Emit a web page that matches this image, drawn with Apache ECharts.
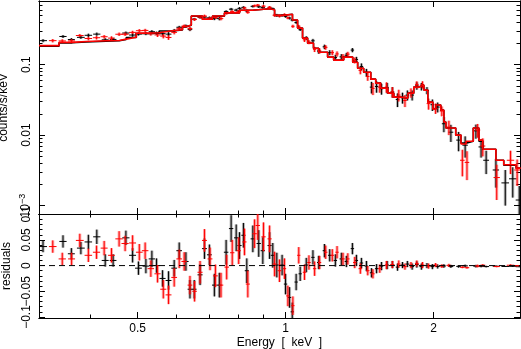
<!DOCTYPE html>
<html>
<head>
<meta charset="utf-8">
<script src="https://cdn.jsdelivr.net/npm/echarts@6/dist/echarts.min.js"></script>
<style>
  html, body { margin: 0; padding: 0; background: #fff; }
  #chart { width: 521px; height: 349px; }
</style>
</head>
<body>
<div id="chart"></div>
<script>
// axis ranges and ticks
const X_MIN = 0.315, X_MAX = 3.0;
const Y_MIN = 0.00076, Y_MAX = 0.8;
const R_MIN = -0.102, R_MAX = 0.1004;
const xMajor = [0.5, 1, 2];
const xMinor = [0.4, 0.6, 0.7, 0.8, 0.9];
const xLabelText = ['0.5', '1', '2'];
const yMajor = [0.001, 0.01, 0.1];
const yMinor = [0.002, 0.003, 0.004, 0.005, 0.006, 0.007, 0.008, 0.009,
  0.02, 0.03, 0.04, 0.05, 0.06, 0.07, 0.08, 0.09, 0.2, 0.3, 0.4, 0.5, 0.6, 0.7];
const yLabelText = ['10{sup|−3}', '0.01', '0.1'];
const rMajor = [-0.1, -0.05, 0, 0.05, 0.1];
const rMinor = [-0.09, -0.08, -0.07, -0.06, -0.04, -0.03, -0.02, -0.01,
  0.01, 0.02, 0.03, 0.04, 0.06, 0.07, 0.08, 0.09];
// residual labels overlap in the original, so they sit on two label rows
const rLabelsA = [-0.1, 0, 0.1];
const rLabelTextA = ['−0.1', '0', '0.1'];
const rLabelsB = [-0.05, 0.05];
const rLabelTextB = ['−0.05', '0.05'];

// folded model (step), bin left edges in keV
const modelE = [0.315, 0.346, 0.368, 0.393, 0.431, 0.459, 0.474, 0.497, 0.528, 0.553, 0.588, 0.617, 0.628, 0.643, 0.677, 0.710,
  0.751, 0.806, 0.856, 0.928, 0.950, 0.991, 1.033, 1.058, 1.083, 1.109, 1.14, 1.168, 1.218, 1.253, 1.313, 1.37, 1.402, 1.442,
  1.491, 1.526, 1.562, 1.615, 1.661, 1.716, 1.774, 1.824, 1.868, 1.912, 1.948, 1.994, 2.023, 2.07, 2.10, 2.12, 2.22, 2.275,
  2.33, 2.41, 2.475, 2.52, 2.595, 2.68, 2.78, 2.945, 3.01];
const blackModel = [0.182, 0.204, 0.21, 0.215, 0.218, 0.227, 0.243, 0.277, 0.28, 0.30, 0.31, 0.344, 0.363, 0.488, 0.44, 0.488,
  0.54, 0.59, 0.62, 0.60, 0.50, 0.52, 0.428, 0.33, 0.238, 0.202, 0.171, 0.15, 0.128, 0.116, 0.128, 0.108, 0.089, 0.078,
  0.0623, 0.0547, 0.0465, 0.0394, 0.0346, 0.0335, 0.0394, 0.048, 0.0512, 0.0435, 0.0294, 0.0234, 0.0267, 0.0226, 0.0153, 0.0126, 0.01, 0.0077,
  0.0082, 0.0126, 0.0082, 0.0063, 0.0063, 0.0044, 0.00375, 0.0034, 0.0034];
const redModel = [0.186, 0.207, 0.213, 0.218, 0.22, 0.23, 0.245, 0.28, 0.283, 0.302, 0.312, 0.346, 0.365, 0.49, 0.442, 0.49,
  0.542, 0.59, 0.62, 0.60, 0.50, 0.52, 0.43, 0.33, 0.238, 0.202, 0.171, 0.15, 0.128, 0.116, 0.128, 0.108, 0.089, 0.078,
  0.0623, 0.0547, 0.0465, 0.0394, 0.0346, 0.0335, 0.0394, 0.048, 0.0512, 0.0435, 0.0294, 0.0234, 0.0267, 0.0226, 0.0153, 0.0126, 0.01, 0.0075,
  0.0082, 0.0126, 0.0085, 0.0063, 0.0063, 0.0044, 0.0038, 0.0034, 0.0034];

// black spectrum: energy, half bin width, counts/s/keV, error, residual
const blackE = [0.321, 0.3525, 0.3666, 0.3833, 0.397, 0.413, 0.4296, 0.4458, 0.4733, 0.4884, 0.502, 0.5198, 0.5346, 0.5464,
  0.562, 0.578, 0.5935, 0.6076, 0.627, 0.639, 0.652, 0.670, 0.684, 0.700, 0.7165, 0.7333, 0.757, 0.775, 0.7936, 0.806, 0.821,
  0.834, 0.858, 0.882, 0.899, 0.928, 0.942, 0.960, 0.984, 1.000, 1.019, 1.032, 1.051, 1.071, 1.102, 1.137, 1.168, 1.200, 1.230,
  1.263, 1.299, 1.330, 1.368, 1.394, 1.427, 1.461, 1.496, 1.532, 1.568, 1.610, 1.650, 1.690, 1.730, 1.770, 1.810, 1.850, 1.890,
  1.940, 1.990, 2.040, 2.100, 2.170, 2.250, 2.320, 2.440, 2.500, 2.560, 2.680, 2.800, 2.900, 2.990];
const blackDE = [0.006, 0.006, 0.006, 0.007, 0.007, 0.007, 0.007, 0.007, 0.008, 0.008, 0.008, 0.008, 0.008, 0.008,
  0.008, 0.008, 0.008, 0.008, 0.008, 0.007, 0.007, 0.008, 0.008, 0.008, 0.008, 0.008, 0.008, 0.008, 0.008, 0.008, 0.008,
  0.008, 0.009, 0.009, 0.009, 0.009, 0.009, 0.009, 0.009, 0.008, 0.008, 0.008, 0.008, 0.008, 0.009, 0.009, 0.009, 0.010, 0.010,
  0.010, 0.011, 0.011, 0.011, 0.011, 0.012, 0.012, 0.012, 0.012, 0.013, 0.013, 0.014, 0.014, 0.015, 0.015, 0.016, 0.016, 0.017,
  0.018, 0.018, 0.020, 0.020, 0.025, 0.025, 0.030, 0.030, 0.030, 0.035, 0.040, 0.050, 0.050, 0.050];
const blackF = [0.219, 0.251, 0.227, 0.244, 0.261, 0.271, 0.225, 0.228, 0.281, 0.263, 0.272, 0.276, 0.293, 0.280,
  0.275, 0.271, 0.305, 0.339, 0.352, 0.317, 0.442, 0.470, 0.473, 0.461, 0.450, 0.450, 0.566, 0.612, 0.594, 0.629, 0.649,
  0.580, 0.672, 0.663, 0.649, 0.639, 0.620, 0.501, 0.501, 0.484, 0.458, 0.430, 0.396, 0.314, 0.239, 0.218, 0.156, 0.179, 0.148,
  0.126, 0.129, 0.136, 0.161, 0.118, 0.094, 0.077, 0.048, 0.049, 0.0455, 0.047, 0.041, 0.032, 0.034, 0.037, 0.037, 0.050, 0.049,
  0.043, 0.027, 0.025, 0.0145, 0.011, 0.0085, 0.0072, 0.0115, 0.0068, 0.0044, 0.0032, 0.0021, 0.0024, 0.0012];
const blackErr = [0.011, 0.012, 0.011, 0.012, 0.014, 0.014, 0.012, 0.012, 0.014, 0.014, 0.013, 0.014, 0.016, 0.014,
  0.016, 0.018, 0.016, 0.016, 0.018, 0.018, 0.018, 0.020, 0.020, 0.020, 0.022, 0.024, 0.024, 0.026, 0.026, 0.026, 0.024,
  0.024, 0.026, 0.026, 0.026, 0.026, 0.024, 0.024, 0.020, 0.020, 0.020, 0.018, 0.016, 0.014, 0.014, 0.014, 0.013, 0.013, 0.012,
  0.012, 0.012, 0.011, 0.011, 0.011, 0.010, 0.010, 0.009, 0.009, 0.008, 0.008, 0.007, 0.007, 0.006, 0.006, 0.006, 0.006, 0.006,
  0.005, 0.005, 0.004, 0.0035, 0.003, 0.0026, 0.0024, 0.0026, 0.002, 0.0016, 0.0014, 0.0011, 0.0011, 0.0007];
const blackRes = [0.037, 0.047, 0.023, 0.034, 0.046, 0.056, 0.010, 0.010, 0.054, 0.020, -0.005, -0.001, 0.013, 0.000,
  -0.025, -0.029, -0.005, 0.029, 0.008, -0.046, -0.046, -0.018, 0.033, 0.021, -0.038, -0.038, 0.026, 0.072, 0.054, 0.039, 0.059,
  -0.010, 0.052, 0.043, 0.029, 0.039, 0.020, 0.001, 0.001, -0.036, -0.062, -0.090, -0.032, -0.016, 0.001, 0.016, 0.006, 0.029, 0.020,
  0.010, 0.013, 0.008, 0.033, 0.010, 0.005, -0.001, -0.014, -0.006, -0.001, 0.001, 0.002, -0.003, 0.001, 0.003, -0.002, 0.002, -0.002,
  0.000, -0.002, -0.0017, -0.0008, -0.0016, -0.0015, -0.0005, -0.0011, -0.0014, -0.0019, -0.0012, -0.0017, -0.0014, -0.0022];

// red spectrum
const redE = [0.336, 0.3513, 0.367, 0.3814, 0.397, 0.4125, 0.4275, 0.4424, 0.4585, 0.4716, 0.4884, 0.504, 0.518, 0.532,
  0.549, 0.564, 0.578, 0.5935, 0.6076, 0.622, 0.639, 0.653, 0.670, 0.684, 0.702, 0.720, 0.739, 0.759, 0.779, 0.803, 0.825,
  0.838, 0.865, 0.878, 0.902, 0.928, 0.950, 0.972, 0.995, 1.011, 1.035, 1.064, 1.093, 1.116, 1.146, 1.173, 1.207, 1.245, 1.273,
  1.309, 1.339, 1.383, 1.420, 1.470, 1.506, 1.555, 1.605, 1.650, 1.700, 1.750, 1.800, 1.850, 1.900, 1.955, 2.020, 2.080, 2.150,
  2.290, 2.340, 2.460, 2.520, 2.690, 2.870, 2.960];
const redDE = [0.006, 0.006, 0.006, 0.007, 0.007, 0.007, 0.007, 0.007, 0.008, 0.008, 0.008, 0.008, 0.008, 0.008,
  0.008, 0.008, 0.008, 0.008, 0.008, 0.008, 0.007, 0.007, 0.008, 0.008, 0.008, 0.008, 0.008, 0.008, 0.008, 0.008, 0.008,
  0.008, 0.009, 0.009, 0.009, 0.009, 0.009, 0.009, 0.008, 0.008, 0.008, 0.008, 0.009, 0.009, 0.009, 0.009, 0.010, 0.010, 0.010,
  0.011, 0.011, 0.011, 0.012, 0.012, 0.012, 0.013, 0.013, 0.014, 0.014, 0.015, 0.016, 0.016, 0.017, 0.018, 0.020, 0.020, 0.025,
  0.025, 0.025, 0.030, 0.030, 0.040, 0.050, 0.040];
const redF = [0.219, 0.217, 0.217, 0.259, 0.235, 0.241, 0.249, 0.238, 0.270, 0.270, 0.287, 0.303, 0.306, 0.274,
  0.264, 0.254, 0.243, 0.287, 0.323, 0.352, 0.325, 0.438, 0.475, 0.489, 0.453, 0.468, 0.450, 0.537, 0.565, 0.569, 0.636,
  0.554, 0.682, 0.698, 0.676, 0.652, 0.503, 0.490, 0.514, 0.461, 0.350, 0.350, 0.225, 0.209, 0.165, 0.157, 0.176, 0.148, 0.142,
  0.129, 0.141, 0.115, 0.083, 0.068, 0.046, 0.048, 0.048, 0.041, 0.037, 0.031, 0.040, 0.052, 0.052, 0.028, 0.024, 0.022, 0.013,
  0.0044, 0.0041, 0.0118, 0.0070, 0.0025, 0.0044, 0.0032];
const redErr = [0.012, 0.012, 0.012, 0.013, 0.013, 0.013, 0.014, 0.014, 0.015, 0.015, 0.015, 0.016, 0.016, 0.016,
  0.017, 0.018, 0.018, 0.018, 0.018, 0.018, 0.018, 0.020, 0.022, 0.022, 0.022, 0.022, 0.024, 0.024, 0.025, 0.026, 0.026,
  0.026, 0.028, 0.028, 0.028, 0.026, 0.024, 0.022, 0.020, 0.020, 0.018, 0.016, 0.015, 0.014, 0.014, 0.013, 0.013, 0.012, 0.012,
  0.012, 0.011, 0.011, 0.010, 0.009, 0.009, 0.008, 0.008, 0.007, 0.007, 0.006, 0.006, 0.006, 0.006, 0.005, 0.004, 0.0035, 0.003,
  0.0018, 0.0018, 0.0026, 0.002, 0.0013, 0.0016, 0.0013];
const redRes = [0.037, 0.013, 0.013, 0.049, 0.020, 0.026, 0.034, 0.020, 0.052, 0.043, 0.044, 0.026, 0.029, -0.006,
  -0.016, -0.046, -0.057, -0.023, 0.013, 0.008, -0.038, -0.050, -0.013, 0.049, 0.013, -0.020, -0.038, -0.003, 0.025, 0.029, 0.046,
  -0.036, 0.062, 0.078, 0.056, 0.052, 0.003, -0.010, -0.006, -0.059, -0.078, 0.020, -0.013, 0.006, -0.006, 0.006, 0.026, 0.020, 0.026,
  0.013, 0.013, 0.006, -0.006, -0.010, -0.016, -0.006, 0.001, 0.002, 0.003, -0.002, 0.001, 0.004, 0.001, -0.001, 0.001, -0.001, 0.0004,
  -0.0033, -0.0041, -0.0008, 0.0007, -0.0019, 0.0007, -0.0002];

const zeroLine = [[X_MIN, 0], [X_MAX, 0]];

const FONT = '"Liberation Sans", Arial, sans-serif';
const chart = echarts.init(document.getElementById('chart'), null, { renderer: 'canvas' });

function axis(grid, pos, type, min, max, ticks, len, extra) {
  return Object.assign({
    type: type, gridIndex: grid, position: pos, min: min, max: max,
    axisLine: { show: true, onZero: false, lineStyle: { color: '#000', width: 1 } },
    axisTick: { show: ticks.length > 0, inside: true, length: len, customValues: ticks, lineStyle: { color: '#000', width: 1 } },
    axisLabel: { show: false },
    splitLine: { show: false },
    minorTick: { show: false },
    minorSplitLine: { show: false },
    axisPointer: { show: false }
  }, extra || {});
}

function pickLabel(values, texts) {
  return function (v) {
    let best = 0;
    for (let i = 1; i < values.length; i++) {
      if (Math.abs(values[i] - v) < Math.abs(values[best] - v)) best = i;
    }
    return texts[best];
  };
}

const labelStyle = { color: '#000', fontSize: 12, fontFamily: FONT, showMinLabel: true, showMaxLabel: true };
const nameStyle = { color: '#000', fontSize: 12, fontFamily: FONT };

const xAxes = [
  axis(0, 'bottom', 'log', X_MIN, X_MAX, xMajor, 6),
  axis(0, 'bottom', 'log', X_MIN, X_MAX, xMinor, 3.5),
  axis(0, 'top', 'log', X_MIN, X_MAX, xMajor, 6),
  axis(0, 'top', 'log', X_MIN, X_MAX, xMinor, 3.5),
  axis(1, 'bottom', 'log', X_MIN, X_MAX, xMajor, 6, {
    axisLabel: Object.assign({ show: true, customValues: xMajor, margin: 5,
      formatter: pickLabel(xMajor, xLabelText) }, labelStyle),
    name: 'Energy  [  keV  ]', nameLocation: 'middle', nameGap: 19, nameTextStyle: nameStyle
  }),
  axis(1, 'bottom', 'log', X_MIN, X_MAX, xMinor, 3.5),
  axis(1, 'top', 'log', X_MIN, X_MAX, xMajor, 6),
  axis(1, 'top', 'log', X_MIN, X_MAX, xMinor, 3.5)
];

const yAxes = [
  axis(0, 'left', 'log', Y_MIN, Y_MAX, yMajor, 6, {
    axisLabel: Object.assign({ show: true, customValues: yMajor, rotate: 90, margin: 6,
      formatter: pickLabel(yMajor, yLabelText),
      rich: { sup: { fontSize: 9, fontFamily: FONT, color: '#000', padding: [0, 0, 6, 0] } } }, labelStyle),
    name: 'counts/s/keV', nameLocation: 'middle', nameRotate: 90, nameGap: 23, nameTextStyle: nameStyle
  }),
  axis(0, 'left', 'log', Y_MIN, Y_MAX, yMinor, 3.5),
  axis(0, 'right', 'log', Y_MIN, Y_MAX, yMajor, 6),
  axis(0, 'right', 'log', Y_MIN, Y_MAX, yMinor, 3.5),
  axis(1, 'left', 'value', R_MIN, R_MAX, rMajor, 6, {
    axisLabel: Object.assign({ show: true, customValues: rLabelsA, rotate: 90, margin: 6,
      formatter: pickLabel(rLabelsA, rLabelTextA) }, labelStyle),
    name: 'residuals', nameLocation: 'middle', nameRotate: 90, nameGap: 23, nameTextStyle: nameStyle
  }),
  axis(1, 'left', 'value', R_MIN, R_MAX, rMinor, 3.5),
  axis(1, 'right', 'value', R_MIN, R_MAX, rMajor, 6),
  axis(1, 'right', 'value', R_MIN, R_MAX, rMinor, 3.5),
  axis(1, 'left', 'value', R_MIN, R_MAX, [], 0, {
    axisLabel: Object.assign({ show: true, customValues: rLabelsB, rotate: 90, margin: 6,
      formatter: pickLabel(rLabelsB, rLabelTextB) }, labelStyle)
  })
];

// cross-shaped error bars drawn through the axes' own coordinate mapping
function errorBars(color, halo) {
  return function (params, api) {
    const e = api.value(0), de = api.value(1), f = api.value(2), df = api.value(3);
    const l = api.coord([e - de, f]), r = api.coord([e + de, f]);
    const t = api.coord([e, f + df]), b = api.coord([e, f - df]);
    const seg = (p, q, w, c) => ({
      type: 'line', shape: { x1: p[0], y1: p[1], x2: q[0], y2: q[1] },
      style: { stroke: c, lineWidth: w }
    });
    return { type: 'group', children: [seg(t, b, 3, halo), seg(t, b, 1, color), seg(l, r, 1, color)] };
  };
}

function rows(e, de, v, err) {
  return e.map((x, i) => [x, de[i], v[i], err[i]]);
}

function bars(name, xi, yi, data, color, halo) {
  return {
    name: name, type: 'custom', xAxisIndex: xi, yAxisIndex: yi,
    renderItem: errorBars(color, halo), data: data, clip: true,
    encode: { x: 0, y: 2 }, silent: true
  };
}

function model(name, data, color) {
  return {
    name: name, type: 'line', xAxisIndex: 0, yAxisIndex: 0, step: 'end',
    data: data, showSymbol: false, symbol: 'none', clip: true, silent: true,
    lineStyle: { color: color, width: 1.6 }, z: 5
  };
}

const option = {
  animation: false,
  backgroundColor: '#fff',
  grid: [
    { left: 39, top: 1, width: 481, height: 213, outerBoundsMode: 'none', containLabel: false },
    { left: 39, top: 214, width: 481, height: 104, outerBoundsMode: 'none', containLabel: false }
  ],
  xAxis: xAxes,
  yAxis: yAxes,
  series: [
    bars('black data', 0, 0, rows(blackE, blackDE, blackF, blackErr), '#000', 'rgba(0,0,0,0.3)'),
    bars('red data', 0, 0, rows(redE, redDE, redF, redErr), '#f00', 'rgba(255,0,0,0.35)'),
    model('black model', modelE.map((e, i) => [e, blackModel[i]]), '#000'),
    model('red model', modelE.map((e, i) => [e, redModel[i]]), '#f00'),
    {
      name: 'zero', type: 'line', xAxisIndex: 4, yAxisIndex: 4, data: zeroLine,
      symbol: 'none', silent: true, lineStyle: { color: '#000', width: 1, type: [6, 4] }
    },
    bars('black residuals', 4, 4, rows(blackE, blackDE, blackRes, blackErr), '#000', 'rgba(0,0,0,0.3)'),
    bars('red residuals', 4, 4, rows(redE, redDE, redRes, redErr), '#f00', 'rgba(255,0,0,0.35)')
  ]
};

chart.setOption(option);
</script>
</body>
</html>
